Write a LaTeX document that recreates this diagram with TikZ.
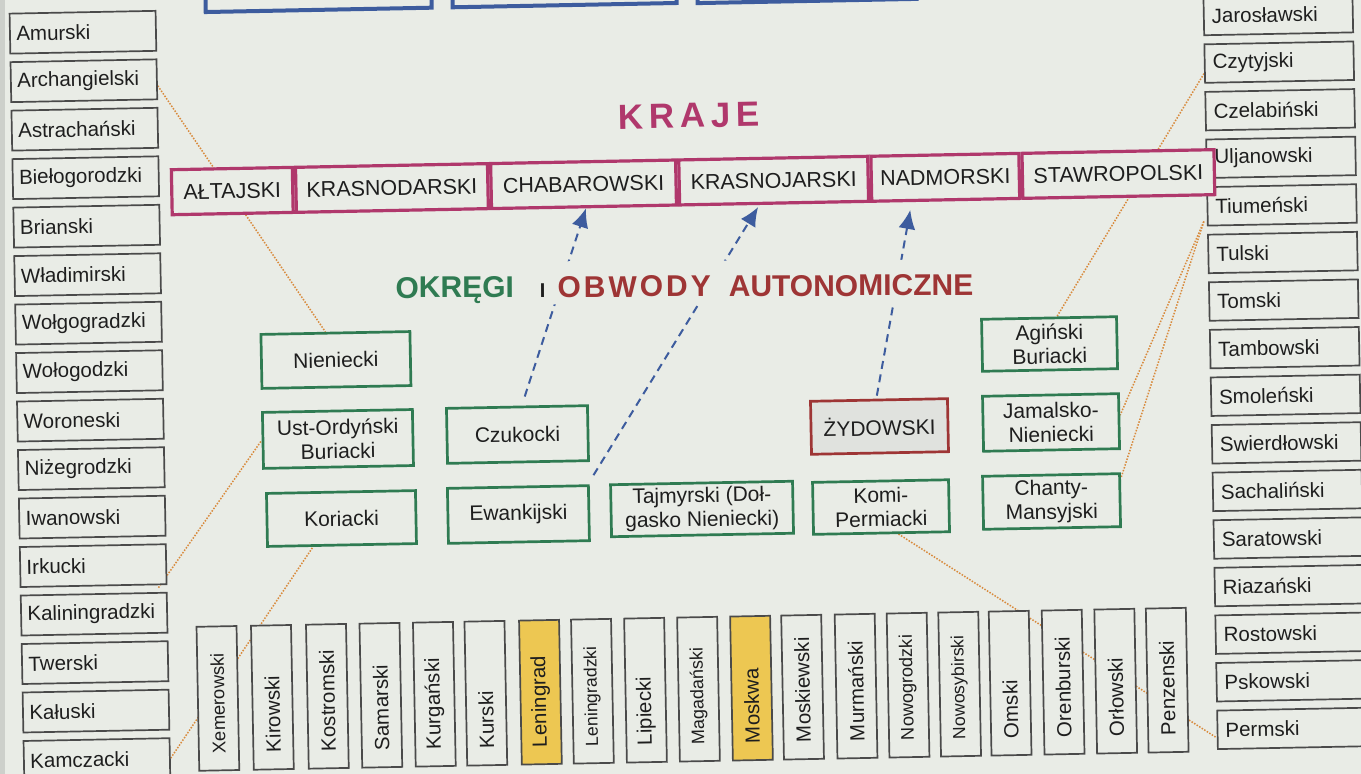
\documentclass[tikz,border=0pt]{standalone}
\usepackage{fontspec}
\setmainfont{Liberation Sans}
\usetikzlibrary{arrows.meta}
\definecolor{paper}{HTML}{E9ECE6}
\definecolor{edge}{HTML}{CDD0CB}
\definecolor{boxgray}{HTML}{4A4A4A}
\definecolor{txt}{HTML}{1E1E1E}
\definecolor{grn}{HTML}{2F7B52}
\definecolor{mag}{HTML}{B0386C}
\definecolor{dred}{HTML}{9E3535}
\definecolor{blu}{HTML}{3D5C9E}
\definecolor{org}{HTML}{D88A3C}
\definecolor{yel}{HTML}{EDC752}
\definecolor{zfill}{HTML}{E0E2DE}
\pgfdeclarelayer{paperlayer}
\pgfdeclarelayer{lines}
\pgfsetlayers{paperlayer,lines,main}
\tikzset{
  lbox/.style={draw=boxgray, line width=0.85pt, fill=paper, inner xsep=3.2pt, inner ysep=0pt,
    text width=66.6pt, minimum height=20pt, align=left, text=txt, anchor=north west,
    font=\fontsize{10.25pt}{12pt}\selectfont},
  rbox/.style={lbox, inner xsep=4pt, text width=66.5pt, minimum height=19.25pt},
  vbox/.style={draw=boxgray, line width=0.85pt, rotate=90, inner xsep=8.5pt, inner ysep=0pt,
    text width=55pt, minimum height=20pt, align=left, text=txt},
  gbox/.style={draw=grn, line width=1.35pt, fill=paper, inner sep=0pt, align=center, text=txt,
    font=\fontsize{10.5pt}{12pt}\selectfont},
  zbox/.style={gbox, draw=dred, fill=zfill},
  kcell/.style={draw=mag, line width=1.6pt, fill=paper, inner sep=0pt, minimum height=22.5pt,
    anchor=west, text=txt, font=\fontsize{10.75pt}{12pt}\selectfont},
  bbox/.style={draw=blu, line width=2pt, fill=paper, anchor=south west, minimum height=30pt},
  barrow/.style={draw=blu, line width=1pt, dash pattern=on 4pt off 2.8pt,
    -{Latex[length=9.5pt,width=8.5pt]}},
  oline/.style={draw=org, line width=0.75pt, dash pattern=on 0.75pt off 0.75pt}
}
\begin{document}
\begin{tikzpicture}[x=0.5pt,y=-0.5pt]
\useasboundingbox (0,0) rectangle (1361,774);
\begin{pgfonlayer}{paperlayer}
  \fill[paper] (0,0) rectangle (1361,774);
  \fill[edge] (0,0) rectangle (5,774);
\end{pgfonlayer}
\clip (0,0) rectangle (1361,774);
\begin{scope}[rotate around={1.1:(680,387)}, transform shape]
  % top boxes (cut off)
  \node[bbox, minimum width=113pt] (top1) at (211,5) {};
  \node[bbox, minimum width=112pt] (top2) at (458,5) {};
  \node[bbox, minimum width=109.5pt] (top3) at (703,5.5) {};
  % left column
  \foreach \t [count=\i from 0] in {Amurski,Archangielski,Astrachański,Biełogorodzki,Brianski,
      Władimirski,Wołgogradzki,Wołogodzki,Woroneski,Niżegrodzki,Iwanowski,Irkucki,
      Kaliningradzki,Twerski,Kałuski,Kamczacki}
    \node[lbox] (L\i) at (16,{48.5*\i}) {\t};
  % right column
  \foreach \t [count=\i from 0] in {Jarosławski,Czytyjski,Czelabiński,Uljanowski,Tiumeński,
      Tulski,Tomski,Tambowski,Smoleński,Swierdłowski,Sachaliński,Saratowski,Riazański,
      Rostowski,Pskowski,Permski}
    \node[rbox] (R\i) at (1210,{6+47.6*\i}) {\t};
  % bottom row
  \foreach \x/\t/\f/\s [count=\i from 0] in {212/Xemerowski/paper/9.2, 266.5/Kirowski/paper/10.25,
      321.5/Kostromski/paper/10.25, 375/Samarski/paper/10.25, 428.5/Kurgański/paper/10.25,
      480/Kurski/paper/10.25, 534.6/Leningrad/yel/10.25, 586.6/Leningradzki/paper/8.8,
      639.7/Lipiecki/paper/10.25, 692.7/Magadański/paper/9, 745.7/Moskwa/yel/10.25,
      796.8/Moskiewski/paper/10.25, 850.3/Murmański/paper/10.25, 902.3/Nowogrodzki/paper/9.1,
      953.9/Nowosybirski/paper/8.8, 1004.4/Omski/paper/10.25, 1057.4/Orenburski/paper/10.25,
      1110/Orłowski/paper/10.25, 1161.5/Penzenski/paper/10.25}
    \node[vbox, fill=\f, font=\fontsize{\s pt}{12pt}\selectfont] (V\i) at (\x,689.5) {\t};
  % kraje
  \node[kcell, minimum width=60.5pt] (altaj) at (174,182.5) {AŁTAJSKI};
  \node[kcell, minimum width=96pt] (krasd) at (altaj.east) {KRASNODARSKI};
  \node[kcell, minimum width=92.5pt] (chab) at (krasd.east) {CHABAROWSKI};
  \node[kcell, minimum width=94.5pt] (krasj) at (chab.east) {KRASNOJARSKI};
  \node[kcell, minimum width=74pt] (nadm) at (krasj.east) {NADMORSKI};
  \node[kcell, minimum width=96pt] (staw) at (nadm.east) {STAWROPOLSKI};
  \node[anchor=base, text=mag, font=\fontsize{17.5pt}{20pt}\selectfont\bfseries\addfontfeatures{LetterSpace=16}]
    (kraje) at (694,128) {KRAJE};
  % okregi / obwody
  \node[gbox, minimum width=74.5pt, minimum height=27pt] (nien) at (336.5,353.4) {Nieniecki};
  \node[gbox, minimum width=75pt, minimum height=28pt] (ustord) at (337,432.4) {Ust-Ordyński\\Buriacki};
  \node[gbox, minimum width=74.5pt, minimum height=26.5pt] (kor) at (339,512) {Koriacki};
  \node[gbox, minimum width=70.5pt, minimum height=27.5pt] (czuk) at (516.6,431.4) {Czukocki};
  \node[gbox, minimum width=70.5pt, minimum height=27.5pt] (ewan) at (516,511.4) {Ewankijski};
  \node[gbox, minimum width=91pt, minimum height=26pt] (tajm) at (699.7,509.4) {Tajmyrski (Doł-\\gasko Nieniecki)};
  \node[zbox, minimum width=68.5pt, minimum height=26.5pt] (zyd) at (878.7,430.3) {ŻYDOWSKI};
  \node[gbox, minimum width=68pt, minimum height=26pt] (komi) at (878.7,510.9) {Komi-\\Permiacki};
  \node[gbox, minimum width=67.5pt, minimum height=26pt] (agin) at (1050.3,351.1) {Agiński\\Buriacki};
  \node[gbox, minimum width=68pt, minimum height=27.5pt] (jam) at (1050.3,429.6) {Jamalsko-\\Nieniecki};
  \node[gbox, minimum width=68.5pt, minimum height=26.5pt] (chan) at (1049.3,508.6) {Chanty-\\Mansyjski};
  % orange dotted links
  \begin{pgfonlayer}{lines}
    \draw[oline] ([yshift=-3.25pt]L1.east) -- ([xshift=-5pt]nien.north);
    \draw[oline] ([xshift=-4.5pt,yshift=-1.25pt]L11.south east) -- (ustord.west);
    \draw[oline] (L15.east) -- ([xshift=-14.5pt]kor.south);
    \draw[oline] ([xshift=8.5pt]komi.south) -- ([yshift=-4pt]R15.west);
    \draw[oline] ([yshift=-5pt]R1.west) -- ([xshift=4pt]agin.north);
    \draw[oline] ([xshift=-1.5pt,yshift=2.5pt]R4.south west) -- ([yshift=3pt]jam.east);
    \draw[oline] ([xshift=-1.5pt,yshift=2.5pt]R4.south west) -- ([yshift=-3pt]chan.north east);
  \end{pgfonlayer}
  % blue dashed arrows
  \draw[barrow] ([xshift=4pt,yshift=4.5pt]czuk.north) -- ([xshift=1pt]chab.south);
  \draw[barrow] ([xshift=2pt,yshift=4.5pt]ewan.north east) -- ([xshift=-8pt,yshift=-1pt]krasj.south);
  \draw[barrow, shorten >=4pt] ([xshift=-1pt,yshift=1.5pt]zyd.north) -- ([xshift=-17pt]nadm.south);
  % title
  \node[fill=paper, rotate=-0.85, inner xsep=2pt, inner ysep=0pt, text height=18pt, text depth=3.5pt, anchor=base west,
    font=\fontsize{15pt}{18pt}\selectfont\bfseries] (title) at (393,292.5)
    {\textcolor{grn}{OKRĘGI}\hspace{13pt}{\color{txt}\fontsize{10pt}{12pt}\selectfont I}\hspace{6pt}\textcolor{dred}{\addfontfeatures{LetterSpace=10}OBWODY}\hspace{9pt}\textcolor{dred}{AUTONOMICZNE}};
\end{scope}
\end{tikzpicture}
\end{document}
